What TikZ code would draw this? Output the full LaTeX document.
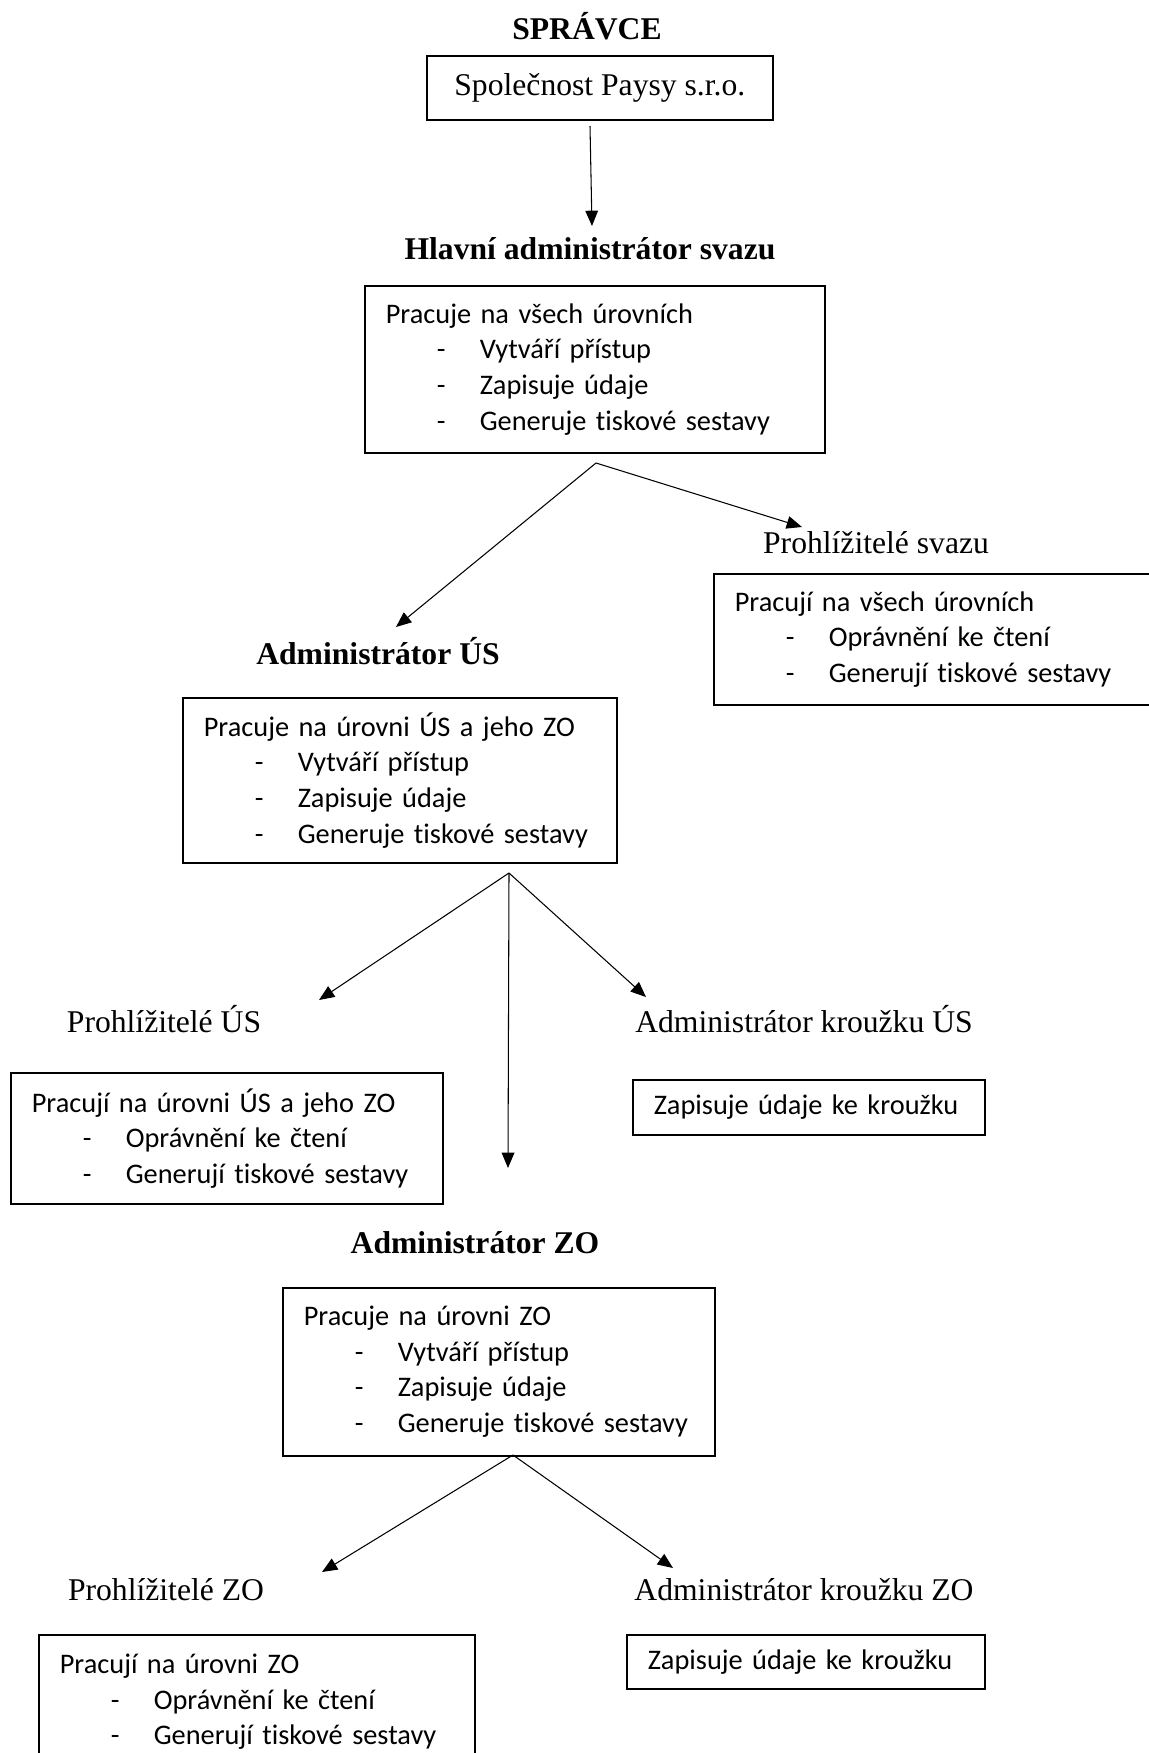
\documentclass[tikz,border=0pt]{standalone}
\usepackage{fontspec}
\setmainfont{Liberation Serif}
\newfontfamily\calibri[Ligatures=NoCommon]{Carlito}
\usetikzlibrary{arrows.meta}
\newcommand{\polozka}[1]{\hspace*{7.65mm}\makebox[6.45mm][l]{-}#1}

\begin{document}
\begin{tikzpicture}[x=0.15mm, y=-0.15mm,
    box/.style={draw, line width=0.7pt, anchor=north west, align=left, inner xsep=3.15mm, inner ysep=0pt, font=\calibri\fontsize{12.1}{15.2}\selectfont},
    title/.style={anchor=base, font=\bfseries\fontsize{13.5}{16}\selectfont},
    role/.style={anchor=base, font=\fontsize{13.5}{16}\selectfont},
    arrow/.style={-{Triangle[length=2.3mm,width=1.9mm]}, line width=0.45pt}
]
\useasboundingbox (0,0) rectangle (1149,1753);
\clip (0,0) rectangle (1149,1753);

% spravce
\node[title] (spr) at (587,39) {SPRÁVCE};
\node[box, align=center, font=\fontsize{13.5}{16}\selectfont, minimum width=51.9mm, minimum height=9.6mm] (paysy) at (426,55) {Společnost Paysy s.r.o.};

% hlavni administrator
\node[title] (hlav) at (590,259) {Hlavní administrátor svazu};
\node[box, text width=62.7mm, minimum height=25.05mm] (hlavbox) at (364,285) {Pracuje na všech úrovních\\
\polozka{Vytváří přístup}\\
\polozka{Zapisuje údaje}\\
\polozka{Generuje tiskové sestavy}};

\node[role] (prohsv) at (876,553) {Prohlížitelé svazu};
\node[box, text width=62.7mm, minimum height=19.65mm] (prohsvbox) at (713,573) {Pracují na všech úrovních\\
\polozka{Oprávnění ke čtení}\\
\polozka{Generují tiskové sestavy}};

% administrator US
\node[title] (adus) at (378,664) {Administrátor ÚS};
\node[box, text width=58.8mm, minimum height=24.75mm] (adusbox) at (182,697) {Pracuje na úrovni ÚS a jeho ZO\\
\polozka{Vytváří přístup}\\
\polozka{Zapisuje údaje}\\
\polozka{Generuje tiskové sestavy}};

\node[role] (prohus) at (164,1032) {Prohlížitelé ÚS};
\node[box, text width=58.5mm, minimum height=19.65mm] (prohusbox) at (10,1072) {Pracují na úrovni ÚS a jeho ZO\\
\polozka{Oprávnění ke čtení}\\
\polozka{Generují tiskové sestavy}};

\node[role] (krus) at (804,1032) {Administrátor kroužku ÚS};
\node[box, text width=46.5mm, minimum height=8.25mm] (krusbox) at (632,1079) {Zapisuje údaje ke kroužku};

% administrator ZO
\node[title] (adzo) at (475,1253) {Administrátor ZO};
\node[box, text width=58.5mm, minimum height=25.2mm] (adzobox) at (282,1287) {Pracuje na úrovni ZO\\
\polozka{Vytváří přístup}\\
\polozka{Zapisuje údaje}\\
\polozka{Generuje tiskové sestavy}};

\node[role] (prohzo) at (166,1600) {Prohlížitelé ZO};
\node[box, text width=59.1mm, minimum height=20.1mm] (prohzobox) at (38,1634) {Pracují na úrovni ZO\\
\polozka{Oprávnění ke čtení}\\
\polozka{Generují tiskové sestavy}};

\node[role] (krzo) at (804,1600) {Administrátor kroužku ZO};
\node[box, text width=47.4mm, minimum height=8.1mm] (krzobox) at (626,1634) {Zapisuje údaje ke kroužku};

% vetveni
\coordinate (v0) at (590,126);
\coordinate (t0) at (592,226);
\coordinate (v1) at (596,463);
\coordinate (t1a) at (396,627);
\coordinate (t1b) at (802,527);
\coordinate (v2) at (509,873);
\coordinate (t2a) at (319,1000);
\coordinate (t2b) at (508,1168);
\coordinate (t2c) at (646,997);
\coordinate (v3) at (513,1455);
\coordinate (t3a) at (322,1572);
\coordinate (t3b) at (673,1568);

\draw[arrow] (v0) -- (t0);
\draw[arrow] (v1) -- (t1a);
\draw[arrow] (v1) -- (t1b);
\draw[arrow] (v2) -- (t2a);
\draw[arrow] (v2) -- (t2b);
\draw[arrow] (v2) -- (t2c);
\draw[arrow] (v3) -- (t3a);
\draw[arrow] (v3) -- (t3b);
\end{tikzpicture}
\end{document}
